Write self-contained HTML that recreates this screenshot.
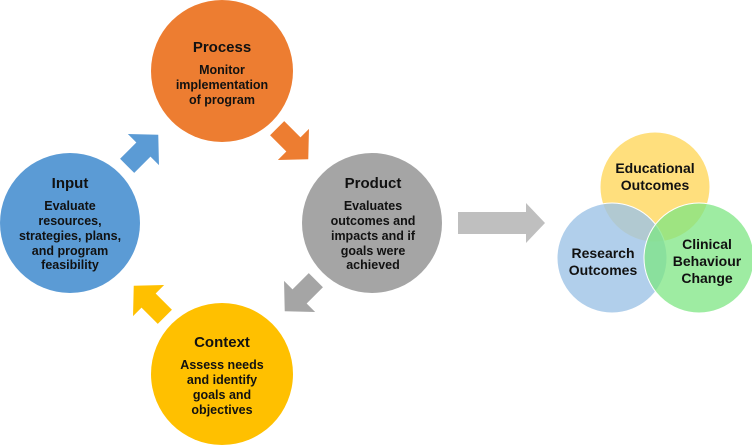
<!DOCTYPE html>
<html><head><meta charset="utf-8"><style>
html,body{margin:0;padding:0;background:#fff;}
svg{display:block;}
text{font-family:"Liberation Sans",sans-serif;font-weight:bold;fill:#111;text-anchor:middle;}
.t{font-size:15px;}
.b{font-size:12.5px;}
.v{font-size:14px;}
</style></head><body>
<svg width="752" height="446" viewBox="0 0 752 446" xmlns="http://www.w3.org/2000/svg">
<defs>
<polygon id="arr" points="-21,-10 2,-10 2,-22 23,0 2,22 2,10 -21,10"/>
</defs>
<circle cx="222" cy="71" r="71" fill="#ED7D31"/>
<circle cx="70" cy="223" r="70" fill="#5B9BD5"/>
<circle cx="372" cy="223" r="70" fill="#A5A5A5"/>
<circle cx="222" cy="374" r="71" fill="#FFC000"/>
<use href="#arr" fill="#5B9BD5" transform="translate(142,151) rotate(-45)"/>
<use href="#arr" fill="#ED7D31" transform="translate(292,143) rotate(45)"/>
<use href="#arr" fill="#A5A5A5" transform="translate(301,295) rotate(135)"/>
<use href="#arr" fill="#FFC000" transform="translate(150,302) rotate(-135)"/>
<polygon points="458,212 526,212 526,203 545,223 526,243 526,234 458,234" fill="#BFBFBF"/>
<text class="t" x="222" y="52">Process</text>
<text class="b" x="222" y="74">Monitor</text>
<text class="b" x="222" y="89">implementation</text>
<text class="b" x="222" y="104">of program</text>
<text class="t" x="70" y="188">Input</text>
<text class="b" x="70" y="210">Evaluate</text>
<text class="b" x="70" y="225">resources,</text>
<text class="b" x="70" y="240">strategies, plans,</text>
<text class="b" x="70" y="255">and program</text>
<text class="b" x="70" y="269">feasibility</text>
<text class="t" x="373" y="188">Product</text>
<text class="b" x="373" y="210">Evaluates</text>
<text class="b" x="373" y="225">outcomes and</text>
<text class="b" x="373" y="240">impacts and if</text>
<text class="b" x="373" y="255">goals were</text>
<text class="b" x="373" y="269">achieved</text>
<text class="t" x="222" y="347">Context</text>
<text class="b" x="222" y="369">Assess needs</text>
<text class="b" x="222" y="384">and identify</text>
<text class="b" x="222" y="399">goals and</text>
<text class="b" x="222" y="414">objectives</text>
<g stroke="#fff" stroke-width="1">
<circle cx="655" cy="187" r="55" fill="#FFD966" fill-opacity="0.85"/>
<circle cx="612" cy="258" r="55" fill="#9DC3E6" fill-opacity="0.8"/>
<circle cx="699" cy="258" r="55" fill="#7EE583" fill-opacity="0.75"/>
</g>
<text class="v" x="655" y="173">Educational</text>
<text class="v" x="655" y="190">Outcomes</text>
<text class="v" x="603" y="258">Research</text>
<text class="v" x="603" y="275">Outcomes</text>
<text class="v" x="707" y="249">Clinical</text>
<text class="v" x="707" y="266">Behaviour</text>
<text class="v" x="707" y="283">Change</text>
</svg>
</body></html>
